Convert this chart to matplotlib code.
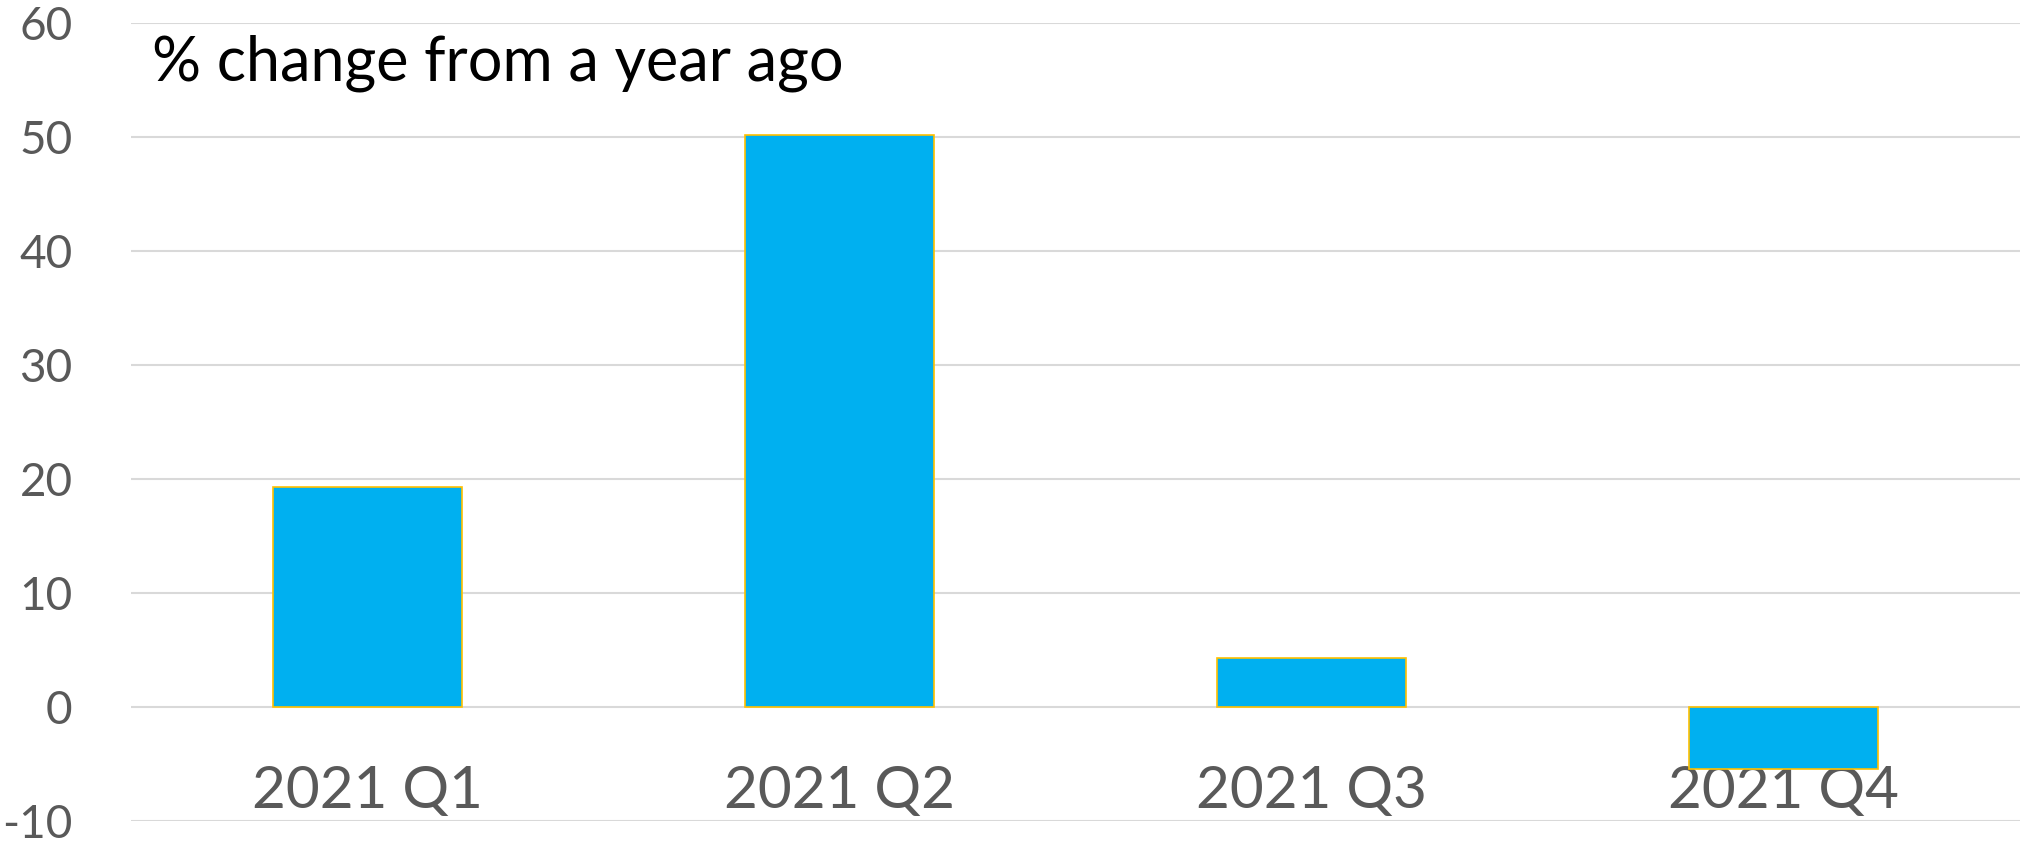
import matplotlib
matplotlib.use("Agg")
import matplotlib.pyplot as plt

categories = ["2021 Q1", "2021 Q2", "2021 Q3", "2021 Q4"]
values = [19.3, 50.2, 4.3, -5.4]
yticks = [-10, 0, 10, 20, 30, 40, 50, 60]
title = "% change from a year ago"

plt.rcParams['font.family'] = ['Lato', 'DejaVu Sans']

fig = plt.figure(figsize=(20.2, 8.46), dpi=100)
ax = fig.add_axes([131/2020, 25/846, 1 - 131/2020, 798/846])

x = list(range(len(categories)))
ax.bar(x, values, width=0.4, color="#00B0F0", edgecolor="#FFC000", linewidth=1.2, zorder=3)

ax.set_xlim(-0.5, len(categories) - 0.5)
ax.set_ylim(-10, 60)
ax.set_yticks(yticks)
ax.set_yticklabels([str(t) for t in yticks])
ax.yaxis.grid(True, color="#d9d9d9", linewidth=1.5, zorder=0)
ax.set_axisbelow(True)

for s in ax.spines.values():
    s.set_visible(False)
ax.spines['bottom'].set_position(('data', 0))

ax.set_xticks(x)
ax.set_xticklabels(categories)
ax.tick_params(axis='x', length=0, pad=42, labelsize=42, labelcolor="#595959")
ax.tick_params(axis='y', length=0, pad=42, labelsize=33, labelcolor="#595959")

fig.text(152/2020, 1 - 80/846, title, fontsize=44, color="black", va="baseline", ha="left")

fig.savefig("out.png", dpi=100)
